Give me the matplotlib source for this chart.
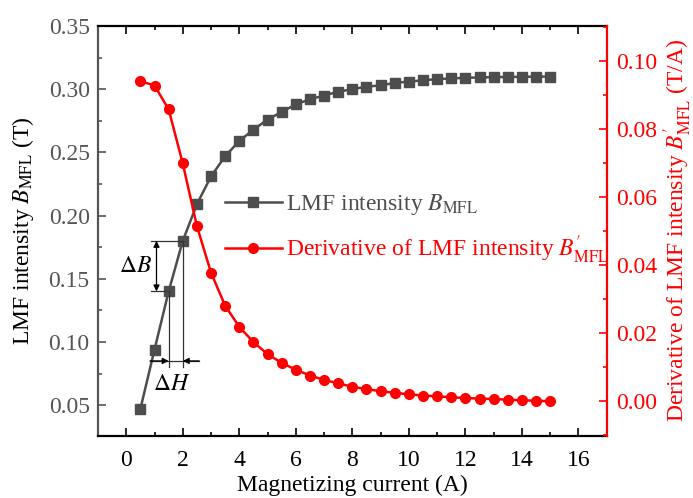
import numpy as np
import matplotlib
matplotlib.use("Agg")
import matplotlib.pyplot as plt
from matplotlib.ticker import MultipleLocator

plt.rcParams["font.family"] = ["Liberation Serif", "DejaVu Serif"]
plt.rcParams["mathtext.fontset"] = "stix"

current = [0.5, 1.0, 1.5, 2.0, 2.5, 3.0, 3.5, 4.0, 4.5, 5.0,
           5.5, 6.0, 6.5, 7.0, 7.5, 8.0, 8.5, 9.0, 9.5, 10.0,
           10.5, 11.0, 11.5, 12.0, 12.5, 13.0, 13.5, 14.0, 14.5, 15.0]
b_mfl = [0.047, 0.094, 0.140, 0.180, 0.209, 0.231, 0.247, 0.259, 0.268, 0.276,
         0.282, 0.288, 0.292, 0.295, 0.298, 0.300, 0.302, 0.303, 0.305, 0.306,
         0.307, 0.308, 0.3085, 0.309, 0.3093, 0.3095, 0.3097, 0.3098, 0.3099, 0.310]
db_mfl = [0.0941, 0.0928, 0.0858, 0.0699, 0.0515, 0.0378, 0.0281, 0.0219, 0.0174, 0.0139,
          0.0113, 0.0093, 0.0076, 0.0063, 0.0053, 0.0043, 0.0036, 0.0030, 0.0025, 0.0021,
          0.0017, 0.0015, 0.0012, 0.0010, 0.0008, 0.0007, 0.0005, 0.0003, 0.0002, 0.0000]

gray = "#4d4d4d"
axgray = "#555555"
red = "#ff0000"
fs = 17

fig = plt.figure(figsize=(6.93, 4.98), dpi=100)
ax = fig.add_axes([0.1414, 0.125, 0.7341, 0.8228])
ax2 = ax.twinx()

l1, = ax.plot(current, b_mfl, "-s", color=gray, lw=1.8, ms=6.5,
              label=r"LMF intensity $B_{\mathrm{MFL}}$")
l2, = ax2.plot(current, db_mfl, "-o", color=red, lw=1.8, ms=7,
               label=r"Derivative of LMF intensity $B_{\mathrm{MFL}}^{\prime}$")

ax.set_xlim(-1, 17)
ax.set_ylim(0.0258, 0.35)
ax2.set_ylim(-0.0101, 0.1103)

ax.xaxis.set_major_locator(MultipleLocator(2))
ax.xaxis.set_minor_locator(MultipleLocator(1))
ax.yaxis.set_major_locator(MultipleLocator(0.05))
ax.yaxis.set_minor_locator(MultipleLocator(0.025))
ax2.yaxis.set_major_locator(MultipleLocator(0.02))
ax2.yaxis.set_minor_locator(MultipleLocator(0.01))
ax.yaxis.set_major_formatter(plt.FormatStrFormatter("%.2f"))
ax2.yaxis.set_major_formatter(plt.FormatStrFormatter("%.2f"))

ax.tick_params(axis="x", which="both", direction="in", top=True, labelsize=fs,
               colors="black", width=1.2, pad=10)
ax.tick_params(axis="x", which="major", length=6)
ax.tick_params(axis="x", which="minor", length=3)
ax.tick_params(axis="y", which="both", direction="in", colors=axgray, labelsize=fs,
               width=1.2, pad=6)
ax.tick_params(axis="y", which="major", length=6)
ax.tick_params(axis="y", which="minor", length=3)
ax2.tick_params(axis="y", which="both", direction="in", colors=red, labelsize=fs,
                width=1.2, pad=7)
ax2.tick_params(axis="y", which="major", length=6)
ax2.tick_params(axis="y", which="minor", length=3)

for s in ["top", "bottom"]:
    ax.spines[s].set_color("black")
    ax.spines[s].set_linewidth(1.6)
    ax2.spines[s].set_visible(False)
ax.spines["left"].set_color(axgray)
ax.spines["left"].set_linewidth(1.6)
ax.spines["right"].set_visible(False)
ax2.spines["left"].set_visible(False)
ax2.spines["right"].set_color(red)
ax2.spines["right"].set_linewidth(1.6)

ax.set_xlabel("Magnetizing current (A)", fontsize=fs, labelpad=3)
ax.set_ylabel(r"LMF intensity $B_{\mathrm{MFL}}$ (T)", fontsize=fs, labelpad=9)
ax2.set_ylabel(r"Derivative of LMF intensity $B_{\mathrm{MFL}}^{\prime}$ (T/A)",
               fontsize=fs, color=red, labelpad=3)

# delta B / delta H annotation
lc = "#333333"
ax.plot([0.86, 2.0], [0.18, 0.18], color=lc, lw=0.9)
ax.plot([0.86, 1.5], [0.14, 0.14], color=lc, lw=0.9)
ax.plot([1.5, 1.5], [0.14, 0.0805], color=lc, lw=0.9)
ax.plot([2.0, 2.0], [0.18, 0.0805], color=lc, lw=0.9)
ax.annotate("", xy=(1.07, 0.18), xytext=(1.07, 0.14),
            arrowprops=dict(arrowstyle="<|-|>", color="black", lw=0.9,
                            mutation_scale=9, shrinkA=0, shrinkB=0))
ax.plot([0.84, 2.58], [0.085, 0.085], color=lc, lw=0.9)
ax.annotate("", xy=(1.5, 0.085), xytext=(0.84, 0.085),
            arrowprops=dict(arrowstyle="-|>", color="black", lw=0.9,
                            mutation_scale=9, shrinkA=0, shrinkB=0))
ax.annotate("", xy=(2.0, 0.085), xytext=(2.58, 0.085),
            arrowprops=dict(arrowstyle="-|>", color="black", lw=0.9,
                            mutation_scale=9, shrinkA=0, shrinkB=0))
ax.text(0.92, 0.16, r"$\Delta B$", fontsize=fs, ha="right", va="center")
ax.text(1.6, 0.066, r"$\Delta H$", fontsize=fs, ha="center", va="center")

leg = ax2.legend(handles=[l1, l2], loc="upper left",
                 bbox_to_anchor=(225 / 693, 1 - 192 / 498),
                 bbox_transform=fig.transFigure, frameon=False, fontsize=fs,
                 handlelength=2.4, handletextpad=0.2, labelspacing=0.7,
                 borderpad=0, borderaxespad=0)
for txt, c in zip(leg.get_texts(), [gray, red]):
    txt.set_color(c)

fig.savefig("out.png", dpi=100)
